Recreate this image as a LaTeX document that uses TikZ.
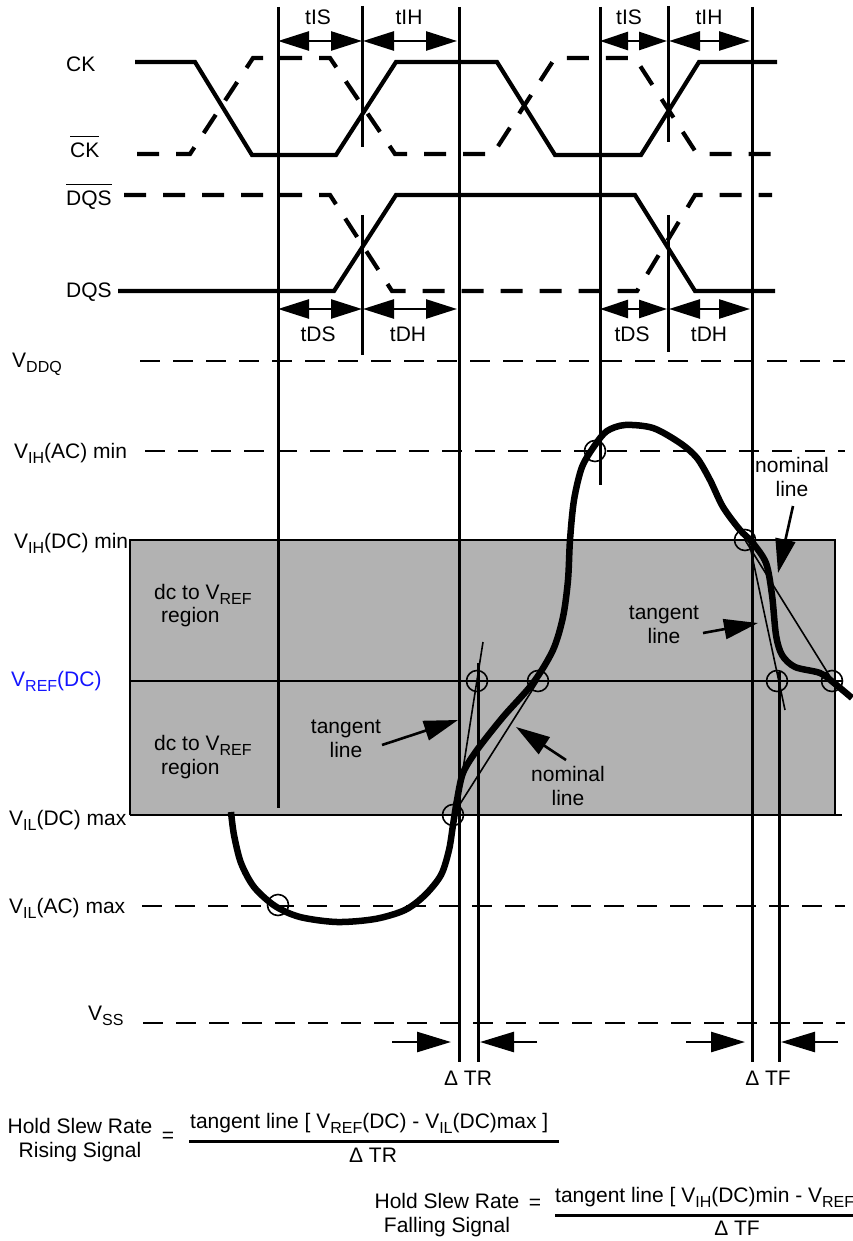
\documentclass[tikz,border=0pt]{standalone}
\usepackage{fontspec}
\setmainfont{Liberation Sans}
\usetikzlibrary{arrows.meta}

\definecolor{vrefblue}{RGB}{20,20,255}
\newcommand{\lowidx}[1]{\raisebox{-5pt}{\fontsize{16}{16}\selectfont #1}}
\newcommand{\barred}[1]{\setbox0=\hbox{#1}\rlap{\rule[20.5pt]{\wd0}{1.3pt}}\box0}

\begin{document}
\begin{tikzpicture}[x=1pt,y=-1pt,
	font=\fontsize{21}{24}\selectfont,
	lbl/.style={inner sep=0pt},
	wave/.style={line width=4.2pt},
	wavedash/.style={line width=4.2pt,dash pattern=on 22pt off 17pt},
	marker/.style={line width=3pt},
	level/.style={line width=1.8pt,dash pattern=on 20pt off 13pt},
	boxline/.style={line width=2pt},
	thinline/.style={line width=1.6pt},
	sig/.style={line width=6.5pt},
	span/.style={line width=2.6pt,{Triangle[length=31pt,width=19pt]}-{Triangle[length=31pt,width=19pt]}},
	spanshort/.style={line width=2.6pt,{Triangle[length=28pt,width=18pt]}-{Triangle[length=28pt,width=18pt]}},
	pointer/.style={line width=2.6pt,-{Triangle[length=34pt,width=20pt]}},
	fracbar/.style={line width=3pt}]
	\useasboundingbox (0,0) rectangle (852,1241);
	% dc to Vref region
	\fill[black!30] (130,540) rectangle (835,815);
	\draw[boxline] (130,815) -- (130,540) -- (835,540) -- (835,815);
	\draw[boxline] (130,815) -- (842,815);
	\draw[boxline] (130,681) -- (843,681);
	% Voltage levels
	\foreach \y/\xa in {361/140,451/145,906/142,1023/143}
		\draw[level] (\xa,\y) -- (845,\y);
	% Timing markers
	\foreach \x/\ya/\yb in {278/7/808,362/6/147,362/215/355,459/7/1062,600/7/485,
		668/6/142,668/215/352,752/7/1062,478/663/1062,779/672/1062}
		\draw[marker] (\x,\ya) -- (\x,\yb);
	% Clock and strobe
	\draw[wave] (135,62) -- (195,62) -- (252,155) -- (336,155) -- (396,62) -- (497,62)
		-- (555,155) -- (641,155) -- (699,62) -- (777,62);
	\draw[wavedash] (137,154) -- (190,154) -- (253,58) -- (330,58) -- (395,154) -- (493,154)
		-- (555,58) -- (635,58) -- (697,154) -- (775,154);
	\draw[wavedash] (124,195) -- (330,195) -- (392,291) -- (637,291) -- (695,195) -- (772,195);
	\draw[wave] (118,291) -- (334,291) -- (396,195) -- (635,195) -- (695,291) -- (775,291);
	\node[lbl,anchor=base west] (ck) at (66,72) {CK};
	\node[lbl,anchor=base west] (ckbar) at (70,158) {\barred{CK}};
	\node[lbl,anchor=base west] (dqsbar) at (66,206) {\barred{DQS}};
	\node[lbl,anchor=base west] (dqs) at (66,297) {DQS};
	% Setup and hold spans
	\draw[span] (278,41) -- (362,41);
	\draw[span] (363,41) -- (457,41);
	\draw[spanshort] (600,41) -- (667,41);
	\draw[span] (669,41) -- (750,41);
	\draw[span] (278,309) -- (362,309);
	\draw[span] (363,309) -- (457,309);
	\draw[spanshort] (600,309) -- (667,309);
	\draw[span] (669,309) -- (750,309);
	\node[lbl,anchor=base] (tis) at (318,25) {tIS};
	\node[lbl,anchor=base] (tih) at (409,25) {tIH};
	\node[lbl,anchor=base] (tis2) at (629,25) {tIS};
	\node[lbl,anchor=base] (tih2) at (709,25) {tIH};
	\node[lbl,anchor=base] (tds) at (318,341) {tDS};
	\node[lbl,anchor=base] (tdh) at (408,341) {tDH};
	\node[lbl,anchor=base] (tds2) at (632,341) {tDS};
	\node[lbl,anchor=base] (tdh2) at (709,341) {tDH};
	% Level names
	\node[lbl,anchor=base west] (vddq) at (12,367) {V\lowidx{DDQ}};
	\node[lbl,anchor=base west] (vihac) at (14,458) {V\lowidx{IH}(AC) min};
	\node[lbl,anchor=base west] (vihdc) at (14,548) {V\lowidx{IH}(DC) min};
	\node[lbl,anchor=base west,text=vrefblue] (vref) at (11,686) {V\lowidx{REF}(DC)};
	\node[lbl,anchor=base west] (vildc) at (9,825) {V\lowidx{IL}(DC) max};
	\node[lbl,anchor=base west] (vilac) at (9,913) {V\lowidx{IL}(AC) max};
	\node[lbl,anchor=base west] (vss) at (88,1020) {V\lowidx{SS}};
	\node[lbl,anchor=base west] (dcup) at (154,599) {dc to V\lowidx{REF}};
	\node[lbl,anchor=base west] (regup) at (161,622) {region};
	\node[lbl,anchor=base west] (dclo) at (154,750) {dc to V\lowidx{REF}};
	\node[lbl,anchor=base west] (reglo) at (161,774) {region};
	% Input signal
	\draw[sig] plot[smooth,tension=0.5] coordinates {(231,812) (234,835) (241,863) (254,887)
		(275,906) (300,917) (337,922) (375,919) (405,910) (425,895) (441,875) (449,850)
		(453,825) (457,800) (463,773) (477,750) (503,717) (533,683) (553,650) (563,617)
		(568,580) (570,540) (574,500) (582,467) (595,445) (607,431) (625,425) (653,428)
		(680,443) (697,458) (710,480) (723,507) (740,530) (752,542) (766,563) (772,595)
		(776,635) (782,655) (795,667) (820,673) (834,683) (852,698)};
	% Tangent and nominal lines
	\draw[thinline] (483,642) -- (455,820);
	\draw[thinline] (453,815) -- (538,681);
	\draw[thinline] (748,537) -- (785,710);
	\draw[thinline] (745,540) -- (834,683);
	\foreach \p in {(278,905),(453,815),(477,681),(538,681),(595,451),(745,540),(777,681),(832,681)}
		\draw[thinline] \p circle[radius=10.5pt];
	% Line labels (base is the last line)
	\node[lbl,align=center,anchor=base] (tanl) at (346,757) {tangent\\line};
	\node[lbl,align=center,anchor=base] (tanr) at (664,643) {tangent\\line};
	\node[lbl,align=center,anchor=base] (noml) at (568,805) {nominal\\line};
	\node[lbl,align=center,anchor=base] (nomr) at (792,496) {nominal\\line};
	\coordinate (tanlfrom) at (382,745);
	\coordinate (tanlto) at (458,720);
	\coordinate (tanrfrom) at (703,633);
	\coordinate (tanrto) at (758,623);
	\coordinate (nomlfrom) at (566,760);
	\coordinate (nomlto) at (516,727);
	\coordinate (nomrfrom) at (793,506);
	\coordinate (nomrto) at (778,573);
	\draw[pointer] (tanlfrom) -- (tanlto);
	\draw[pointer] (tanrfrom) -- (tanrto);
	\draw[pointer] (nomlfrom) -- (nomlto);
	\draw[pointer] (nomrfrom) -- (nomrto);
	% Delta T
	\draw[pointer] (392,1042) -- (451,1042);
	\draw[pointer] (537,1042) -- (480,1042);
	\draw[pointer] (686,1042) -- (745,1042);
	\draw[pointer] (838,1042) -- (781,1042);
	\node[lbl,anchor=base] (dtr) at (468,1085) {Δ TR};
	\node[lbl,anchor=base] (dtf) at (768,1085) {Δ TF};
	% Slew rate formulas
	\node[lbl,align=center,anchor=base] (rise) at (80,1157) {Hold Slew Rate\\Rising Signal};
	\node[lbl] (eqr) at (168,1137) {=};
	\node[lbl,anchor=base west] (numr) at (190,1128) {tangent line [ V\lowidx{REF}(DC) - V\lowidx{IL}(DC)max ]};
	\draw[fracbar] (189,1141) -- (559,1141);
	\node[lbl,anchor=base] (denr) at (373,1162) {Δ TR};
	\node[lbl,align=center,anchor=base] (fall) at (447,1232) {Hold Slew Rate\\Falling Signal};
	\node[lbl] (eqf) at (535,1204) {=};
	\node[lbl,anchor=base west] (numf) at (555,1202) {tangent line [ V\lowidx{IH}(DC)min - V\lowidx{REF}(DC) ]};
	\draw[fracbar] (555,1215) -- (920,1215);
	\node[lbl,anchor=base] (denf) at (737,1235) {Δ TF};
\end{tikzpicture}
\end{document}
